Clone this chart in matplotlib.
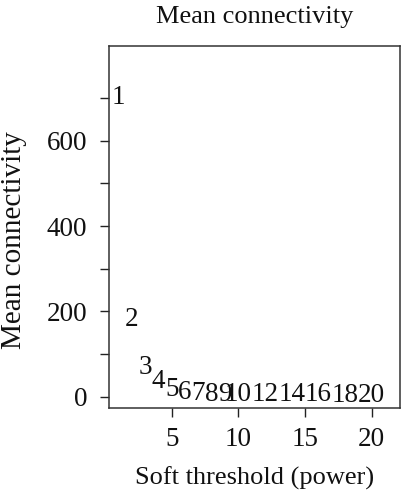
import matplotlib
matplotlib.use("Agg")
import matplotlib.pyplot as plt

plt.rcParams['font.family'] = ['Liberation Serif', 'DejaVu Serif']

# soft-threshold powers and mean connectivity
powers = [1, 2, 3, 4, 5, 6, 7, 8, 9, 10, 12, 14, 16, 18, 20]
mean_k = [702, 182, 68, 35, 16, 10, 6.5, 6, 5.5, 5, 4.5, 4, 4, 3.5, 3]

y_ticks = [0, 100, 200, 300, 400, 500, 600, 700]
y_labels = ['0', '', '200', '', '400', '', '600', '']
x_ticks = [5, 10, 15, 20]

fig = plt.figure(figsize=(4.01, 5.0), dpi=100)
ax = fig.add_axes([0.2718, 0.184, 0.7245, 0.725])

for p, k in zip(powers, mean_k):
    ax.text(p, k, str(p), ha='center', va='center', fontsize=19.5, color='#111111')

ax.set_xlim(0.30, 22.09)
ax.set_ylim(-26.5, 823)
ax.set_xticks(x_ticks)
ax.set_yticks(y_ticks)
ax.set_yticklabels(y_labels)

ax.tick_params(axis='both', direction='out', length=6.5, width=1, colors='#222222',
               labelsize=19.5, labelcolor='#111111')
ax.tick_params(axis='x', pad=7)
ax.tick_params(axis='y', pad=9)
for s in ax.spines.values():
    s.set_linewidth(1.1)
    s.set_color('#333333')

ax.set_title("Mean connectivity", fontsize=19, pad=16, color='#111111')
ax.set_xlabel("Soft threshold (power)", fontsize=19, color='#111111')
ax.xaxis.set_label_coords(0.5, -0.163)
ax.set_ylabel("Mean connectivity", fontsize=21, color='#111111')
ax.yaxis.set_label_coords(-0.283, 0.463)

fig.savefig('out.png', dpi=100)
